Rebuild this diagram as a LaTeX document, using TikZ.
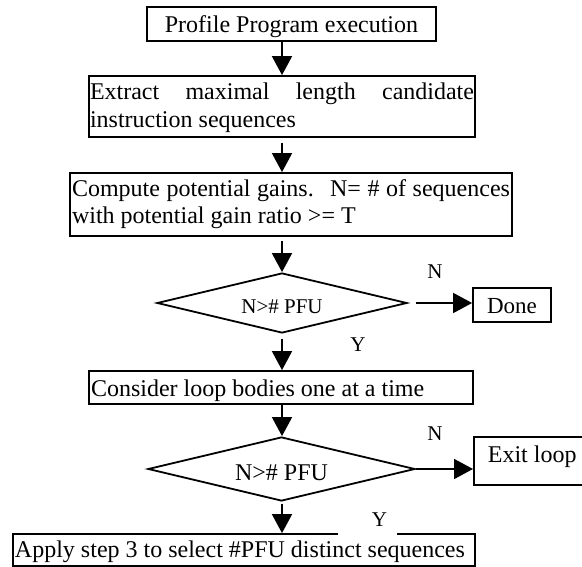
\documentclass[tikz,border=0pt]{standalone}
\usepackage{fontspec}
\setmainfont{Liberation Serif}
\usetikzlibrary{shapes.geometric,arrows.meta,calc}
\begin{document}
\begin{tikzpicture}[x=1pt,y=-1pt,
  box/.style={draw, line width=1.8pt, inner ysep=0pt, font=\fontsize{24}{29}\selectfont},
  dia/.style={draw, line width=1.8pt, shape=diamond, shape aspect=4.2, inner sep=0pt},
  arr/.style={line width=1.8pt, -{Triangle[length=19pt,width=20pt]}},
  lbl/.style={inner sep=0pt, font=\fontsize{21}{25}\selectfont}]
\useasboundingbox (0,0) rectangle (582,567);
\clip (0,0) rectangle (582,567);

% process boxes; text height/depth place each baseline inside its frame
% (justified paragraphs keep the font's own word spacing)
\node[box, minimum width=289pt, inner xsep=0pt, text height=26pt, text depth=8pt] (prof) at (291.5,24)
  {Profile Program execution};
\node[box, text width=384pt, inner xsep=1pt, align=justify, font=\fontsize{24}{28}\selectfont,
      text height=24pt, text depth=37pt] (extr) at (282,106.5)
  {Extract maximal length candidate\linebreak instruction sequences};
\node[box, text width=438pt, inner xsep=2pt, align=justify, font=\fontsize{24}{26.5}\selectfont,
      text height=24pt, text depth=39pt] (comp) at (291,204.5)
  {Compute potential gains.~ N= \# of sequences\linebreak with potential gain ratio >= T};

% first test
\node[dia, minimum width=250pt, minimum height=60pt, font=\fontsize{21}{25}\selectfont] (d1) at (282,303)
  {\raisebox{-11pt}[0pt][0pt]{N>\# PFU}};
\node[box, minimum width=78pt, inner xsep=0pt, font=\fontsize{23}{28}\selectfont,
      text height=25pt, text depth=9pt] (done) at (512,305)
  {Done};

\node[box, text width=380pt, inner xsep=2pt, align=justify, text height=25pt, text depth=8pt] (loop) at (281,387.5)
  {Consider loop bodies one at a time};

% second test
\node[dia, minimum width=267pt, minimum height=64pt, font=\fontsize{24}{29}\selectfont] (d2) at (281.5,469)
  {\raisebox{-11pt}[0pt][0pt]{N>\# PFU}};
\node[box, anchor=west, text width=102pt, inner xsep=14pt, align=justify,
      text height=25pt, text depth=23pt] (exit) at (473,461)
  {Exit loop};

\node[box, text width=458pt, inner xsep=2pt, align=justify, text height=23pt, text depth=9pt] (appl) at (244,550)
  {Apply step 3 to select \#PFU distinct sequences};

% connectors
\draw[arr] (d1.north |- prof.south) -- (d1.north |- extr.north);
\draw[arr, shorten <=5pt] (d1.north |- extr.south) -- (d1.north |- comp.north);
\draw[arr, shorten <=4pt] (d1.north |- comp.south) -- (d1.north);
\draw[arr, shorten <=5pt] (d1.south) -- (d1.south |- loop.north);
\draw[arr] (d1.south |- loop.south) -- (d1.south |- d2.north);
\draw[arr, shorten <=2pt] (d1.south |- d2.south) -- (d1.south |- appl.north);
\draw[arr, shorten <=8pt] (d1.east) -- (done.west |- d1.east);
\draw[arr] (d2.east) -- (exit.west |- d2.east);

% branch labels
\node[lbl] (n1) at (435,272) {N};
\node[lbl] (y1) at (358,345) {Y};
\node[lbl] (n2) at (435,434) {N};
\node[lbl, fill=white, text width=39pt, align=right, inner xsep=10pt, inner ysep=8pt, anchor=south] (y2)
  at (367.5,535) {Y};
\end{tikzpicture}
\end{document}
